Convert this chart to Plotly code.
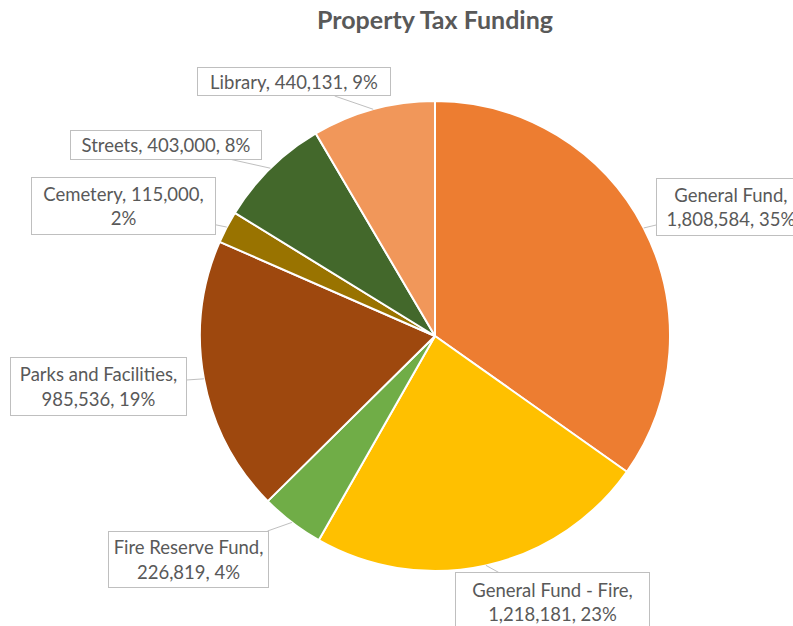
import math
import plotly.graph_objects as go

# Property tax funding by fund
funds = ["General Fund", "General Fund - Fire", "Fire Reserve Fund",
         "Parks and Facilities", "Cemetery", "Streets", "Library"]
amounts = [1808584, 1218181, 226819, 985536, 115000, 403000, 440131]
colors = ["#ED7D31", "#FFC000", "#70AD47", "#9E480E", "#997300", "#43682B", "#F1975A"]

# Where each label wraps: after the name, after the value, or not at all
wraps = ["name", "name", "name", "name", "value", "none", "none"]
# Label box centres and sizes (pixels from top-left)
box_cx = [731, 552, 188, 98, 123, 166, 294]
box_cy = [207, 602, 559, 386, 206, 145, 82]
box_w = [150, 195, 161, 177, 185, 192, 194]
box_h = [58, 60, 57, 59, 58, 30, 29]

W, H = 793, 626
CX, CY, R = 435, 336, 235

total = sum(amounts)


def rounded_percents(vals):
    """Whole percentages that add up to 100 (largest remainder)."""
    raw = [v * 100 / sum(vals) for v in vals]
    base = [math.floor(r) for r in raw]
    left = 100 - sum(base)
    order = sorted(range(len(vals)), key=lambda i: raw[i] - base[i], reverse=True)
    for i in order[:left]:
        base[i] += 1
    return base


pcts = rounded_percents(amounts)

fig = go.Figure(go.Pie(
    labels=funds,
    values=amounts,
    sort=False,
    direction="clockwise",
    rotation=0,
    marker=dict(colors=colors, line=dict(color="white", width=2)),
    textinfo="none",
    hoverinfo="label+value+percent",
    showlegend=False,
    domain=dict(x=[(CX - R) / W, (CX + R) / W], y=[1 - (CY + R) / H, 1 - (CY - R) / H]),
))

annotations = []
cum = 0
for i, (name, v) in enumerate(zip(funds, amounts)):
    mid = (cum + v / 2) / total * 2 * math.pi
    cum += v
    tx = CX + R * math.sin(mid)
    ty = CY - R * math.cos(mid)
    val = f"{v:,}"
    if wraps[i] == "name":
        text = f"{name},<br>{val}, {pcts[i]}%"
    elif wraps[i] == "value":
        text = f"{name}, {val},<br>{pcts[i]}%"
    else:
        text = f"{name}, {val}, {pcts[i]}%"
    annotations.append(dict(
        x=tx / W, y=1 - ty / H, xref="paper", yref="paper",
        ax=box_cx[i] - tx, ay=box_cy[i] - ty, axref="pixel", ayref="pixel",
        text=text, showarrow=True, arrowhead=0, arrowwidth=1, arrowcolor="#BFBFBF",
        standoff=0, startstandoff=0,
        width=box_w[i] - 8, height=box_h[i] - 8, borderpad=3,
        bordercolor="#BFBFBF", borderwidth=1, bgcolor="white",
        align="center", valign="middle",
        font=dict(family="Lato", size=18.5, color="#595959"),
    ))

fig.update_layout(
    width=W, height=H,
    margin=dict(l=0, r=0, t=0, b=0),
    paper_bgcolor="white",
    title=dict(text="<b>Property Tax Funding</b>", x=CX / W, y=1 - 20 / H,
               xanchor="center", yanchor="middle",
               font=dict(family="Lato", size=25, color="#595959")),
    annotations=annotations,
)

fig.write_html("out.html")
